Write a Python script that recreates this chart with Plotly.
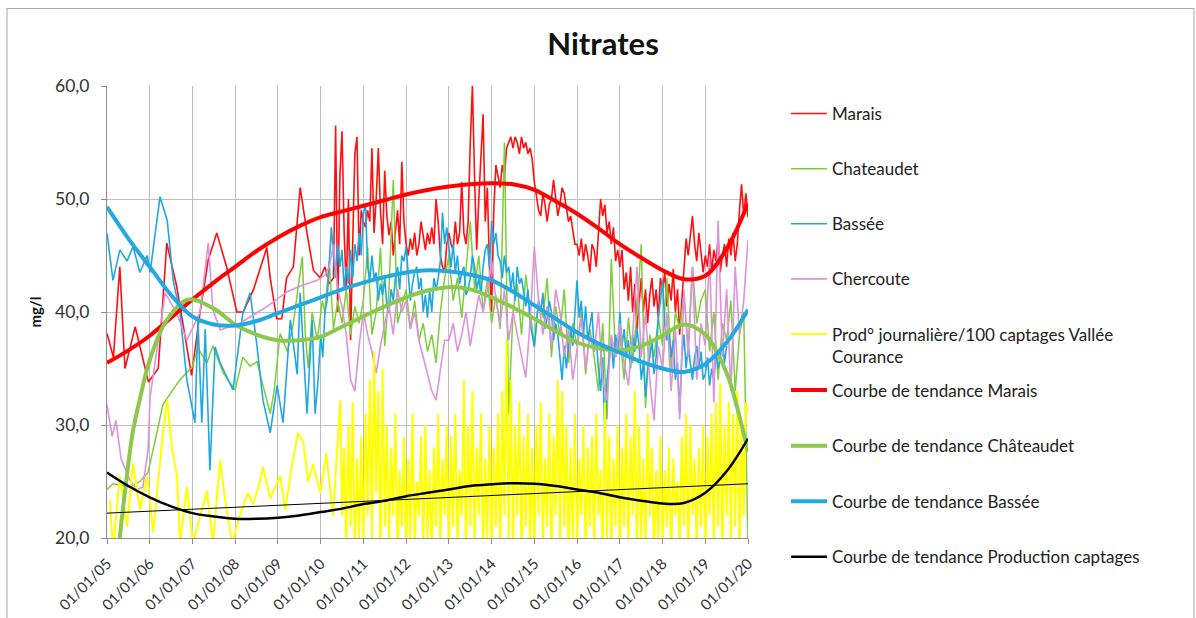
import plotly.graph_objects as go
import pandas as pd

# ---------------- DATA ----------------
# Marais: sparse samples 2005-2010.2, then regular samples every 0.05 year from 2010.30
marais_years = [2005.00, 2005.15, 2005.30, 2005.42, 2005.66, 2005.97, 2006.20, 2006.40, 2006.63, 2006.87,
                2006.98, 2007.18, 2007.37, 2007.57, 2007.80, 2008.04, 2008.19, 2008.43, 2008.74, 2008.82,
                2008.97, 2009.09, 2009.20, 2009.36, 2009.52, 2009.68, 2009.83, 2009.99, 2010.10, 2010.20]
marais_vals = [38.1, 36.0, 44.0, 35.0, 38.7, 33.8, 35.0, 46.1, 42.3, 37.0,
               34.4, 40.0, 44.6, 47.0, 44.0, 40.0, 40.0, 42.0, 45.7, 43.0,
               39.4, 39.4, 43.0, 44.0, 51.0, 47.0, 43.7, 43.0, 44.0, 42.5]
marais_dense_start, marais_dense_step = 2010.30, 0.05
marais_dense = [
    43, 56.5, 40, 52, 56, 47, 42, 50, 37.5, 46, 54, 55.5, 45, 49,
    48, 47.5, 49, 48, 54.5, 47, 50, 54.5, 49, 46, 52.5, 48.5, 46.8, 48, 45, 47, 49, 46, 53.3, 48,
    46, 45, 46.5, 45.5, 47, 45, 46, 48, 46.5, 45.5, 47, 46, 47.5, 46, 50, 48, 45, 44, 43.5, 46,
    47, 46, 45.5, 48, 46, 47, 51.5, 47, 46, 48, 55, 60, 52, 45.5, 50, 54, 57.5, 48, 51, 44,
    40, 49, 53, 52, 51, 53, 52, 54.5, 55, 55.5, 54.5, 55.5, 55, 54, 55.5, 54.5, 55, 54, 54.5, 53.5,
    51.5, 50, 49, 48.5, 50.5, 49.5, 48, 49.5, 50, 51.7, 50, 48.5, 49.5, 51, 50.5, 49, 48, 48.5, 47, 46,
    46, 45, 46.5, 44.5, 46, 45, 43.5, 46, 45.5, 44, 47, 50, 48.5, 49.5, 47, 48, 46, 47.5, 44.5, 45.5,
    44, 45.5, 42, 43.5, 41, 44, 40, 42.5, 38.5, 41, 43, 40, 42, 39, 41.5, 43, 40.5, 42, 39.5, 43,
    42, 43.5, 40.5, 42.5, 41, 43.8, 40, 42, 38, 41, 44, 46.5, 45, 47, 48.5, 46, 44.5, 47, 45, 43.5,
    45, 44, 46, 43.5, 45.5, 44.5, 46.5, 43.5, 45, 46, 44, 46.5, 45, 47, 44.5, 46, 49, 51.3, 48.5, 50.5,
    48.5, 48]

# Chateaudet
chat_years = [2005.00, 2005.14, 2005.30, 2005.54, 2005.77, 2005.96, 2006.12, 2006.31, 2006.52, 2006.71,
              2006.99, 2007.13, 2007.34, 2007.48, 2007.72, 2008.00, 2008.18, 2008.35, 2008.51, 2008.65,
              2008.82, 2008.91, 2009.05, 2009.22, 2009.36, 2009.57, 2009.64, 2009.71, 2009.80, 2009.92,
              2010.04]
chat_vals = [24.3, 24.8, 24.7, 24.5, 25.0, 25.8, 28.5, 31.8, 33.0, 34.0,
             35.1, 36.8, 35.5, 37.0, 34.6, 33.1, 36.0, 35.2, 35.6, 33.5,
             31.0, 33.0, 38.1, 36.5, 39.0, 44.9, 38.0, 35.0, 40.0, 37.5,
             41.0]
chat_dense_start, chat_dense_step = 2010.1, 0.1
chat_dense = [
    40, 44.5, 38.5, 41, 39, 42, 38, 40.5, 39,
    41, 45.7, 38, 40, 45.7, 37, 42, 51.7, 39, 40.5,
    42, 38.5, 41, 37.5, 39, 36.5, 38, 35.5, 40, 43,
    45, 41, 43, 39.5, 44, 48, 42, 45, 40, 43,
    39, 41.5, 38.5, 55, 31, 40, 42.5, 38, 43.3, 40,
    37, 41, 39.5, 43, 36, 40.5, 38, 42, 35.5, 39,
    37, 40, 34.5, 38.5, 36, 33, 39, 30.5, 44.7, 36,
    38, 34, 39.5, 35.5, 40, 46, 31.5, 38, 36, 39.5,
    37, 43, 35, 40, 38.5, 41.5, 37, 44, 39, 41,
    42, 36.5, 40, 34, 39, 37.5, 41, 33, 38, 40,
    19]

# Bassée
bassee_years = [2005.00, 2005.14, 2005.30, 2005.47, 2005.61, 2005.77, 2005.94, 2006.01, 2006.24, 2006.41,
                2006.55, 2006.71, 2006.87, 2007.06, 2007.13, 2007.22, 2007.30, 2007.41, 2007.53, 2007.65,
                2007.95, 2008.18, 2008.35, 2008.51, 2008.65, 2008.82, 2008.98, 2009.12, 2009.29, 2009.45,
                2009.52, 2009.68, 2009.80, 2009.87, 2009.94]
bassee_vals = [47.0, 42.8, 45.5, 44.5, 45.8, 43.5, 45.0, 43.5, 50.2, 48.1,
               42.8, 39.9, 34.0, 30.2, 39.3, 30.2, 38.5, 26.0, 36.9, 35.5,
               33.1, 39.9, 41.7, 37.0, 32.2, 29.3, 33.5, 30.2, 39.3, 34.5,
               41.7, 31.0, 39.3, 31.0, 34.0]
bassee_dense_start, bassee_dense_step = 2010.0, 0.05
bassee_dense = [
    38, 36, 40, 41, 44, 47.5, 45, 43, 46, 44, 45.5, 42, 44, 42.5, 45.5, 43, 46, 44.5, 47, 45,
    48.8, 49.5, 44, 42.8, 45, 43, 43.5, 41, 42.5, 41.5, 43, 40.5, 39.9, 42, 41, 43, 44, 42, 45, 44.5,
    45.8, 43, 41, 42.5, 43.5, 44, 42, 43, 40, 41.5, 39.5, 42, 40, 43, 42, 43, 44.5, 48.8, 46, 47.5,
    45.8, 44, 46, 43.5, 45, 42.5, 43.5, 44, 41.5, 42, 43, 45, 44, 42, 43, 41.5, 44, 45.5, 46, 44,
    48.1, 46, 47, 45, 44.5, 43, 45, 43.5, 44, 42, 43.5, 41, 44, 42.5, 43, 41.8, 40.5, 42, 39, 38,
    36.9, 39, 41, 40, 41.7, 38.5, 39.5, 41, 40, 37.5, 39, 38, 36, 34, 37, 35, 36.9, 38.5, 37, 40,
    42.8, 39.5, 41, 38, 40.5, 37.5, 39, 40, 36.5, 37.5, 35, 33, 36, 28.7, 34, 36, 37.5, 35, 38, 36.5,
    40, 37, 38.5, 36, 37.5, 35, 38, 36.5, 38.5, 37, 34, 35.5, 32.5, 35, 36, 37.5, 34.5, 36, 39.5, 41,
    42.8, 39, 37.5, 38.5, 36, 37.5, 34, 35.5, 31, 36, 38, 35, 37, 35.5, 34, 36, 37, 35, 36.5, 34,
    34.5, 36, 33.5, 35, 34, 36.5, 35, 36, 37.5, 35.5, 37]

# Chercoute
cherc_years = [2005.00, 2005.12, 2005.21, 2005.33, 2005.54, 2005.70, 2005.84, 2005.96, 2006.01, 2006.17,
               2006.36, 2006.62, 2006.87, 2007.18, 2007.37, 2007.48, 2007.65, 2008.11, 2008.75, 2009.22,
               2009.52, 2009.92, 2010.11]
cherc_vals = [31.8, 29.0, 30.4, 27.0, 25.1, 24.3, 24.5, 27.8, 32.5, 36.9,
              41.7, 40.0, 37.5, 40.0, 46.1, 40.2, 38.4, 39.0, 40.5, 41.8,
              42.3, 42.8, 43.3]
cherc_dense_start, cherc_dense_step = 2010.2, 0.1
cherc_dense = [
    44, 46, 42, 40.5, 38, 34, 33, 37,
    40, 38, 36.5, 34.6, 37, 39, 40.5, 38, 42, 40,
    41, 38.5, 40, 37.5, 36, 34.5, 33, 32.2, 35, 37.5,
    37.5, 39, 36.5, 38, 40, 37, 39.3, 41.5, 40, 42,
    44.6, 41, 39, 42, 37.5, 40, 38, 36, 34.2, 39,
    45.8, 41, 38, 40.5, 37, 42, 40, 36, 38.5, 34,
    37, 39.5, 35, 38, 36.5, 40, 34, 32.2, 38, 36,
    39, 35.5, 33.5, 38, 44, 36, 40, 34, 30.4, 37,
    35, 40, 33, 38.5, 30.5, 42, 36, 44, 34, 39,
    37, 45, 32, 48.1, 36, 42, 33, 44, 38, 41,
    46.4]

# Prod° journalière / 100
prod_years = [2005.07, 2005.14, 2005.30, 2005.47, 2005.61, 2005.77, 2005.94, 2006.08, 2006.31, 2006.41,
              2006.52, 2006.64, 2006.71, 2006.87, 2007.01, 2007.18, 2007.34, 2007.48, 2007.65, 2007.76,
              2007.93, 2008.11, 2008.30, 2008.42, 2008.58, 2008.65, 2008.82, 2009.05, 2009.17, 2009.33,
              2009.47, 2009.59, 2009.71, 2009.82, 2009.99, 2010.13, 2010.29, 2010.46]
prod_vals = [23.4, 19.0, 25.5, 21.0, 26.6, 22.5, 25.5, 20.5, 29.3, 32.2,
             28.0, 25.5, 19.5, 24.5, 19.5, 22.0, 24.2, 19.5, 26.9, 23.5,
             19.5, 22.0, 24.0, 23.0, 25.0, 26.3, 23.5, 25.5, 22.5, 26.5,
             29.3, 28.5, 25.0, 26.5, 24.0, 27.5, 22.0, 32.2]
prod_dense_start, prod_dense_step = 2010.5, 0.05
prod_dense = [
    22, 28, 19, 30, 21, 32, 18, 27, 20, 29,
    19, 31, 22, 34, 20, 36.5, 24, 33, 18, 35, 21, 30, 19, 28, 22, 31, 18, 26, 21, 29,
    18, 27, 20, 31, 19, 25, 22, 29, 18, 30, 20, 26, 18, 28, 21, 31, 19, 27, 22, 30,
    18, 29, 21, 31, 19, 26, 22, 34, 18, 30, 21, 33, 19, 28, 22, 31, 18, 27, 20, 30,
    19, 28, 21, 31, 18, 33, 22, 37.5, 20, 34, 19, 30, 22, 32, 18, 29, 21, 31, 19, 28,
    18, 30, 22, 32, 19, 27, 21, 31, 18, 29, 22, 34, 19, 33, 21, 30, 18, 28, 20, 31,
    19, 27, 22, 30, 18, 28, 21, 29, 19, 31, 22, 26, 18, 32, 20, 29, 19, 27, 21, 30,
    18, 28, 21, 31, 19, 29, 22, 33, 18, 30, 20, 27, 19, 31, 22, 28, 18, 26, 20, 29,
    19, 26, 21, 28, 18, 27, 22, 25, 19, 29, 21, 31, 18, 30, 22, 27, 19, 28, 21, 30,
    18, 29, 22, 31, 19, 32, 21, 33.7, 18, 30, 22, 32, 19, 31, 21, 33, 18, 30, 22, 32,
    31]

# Trend curves
trend_years = [2005.0, 2005.5, 2006.0, 2006.5, 2007.0, 2007.5, 2008.0, 2008.5, 2009.0, 2009.5,
               2010.0, 2010.5, 2011.0, 2011.5, 2012.0, 2012.5, 2013.0, 2013.5, 2014.0, 2014.5,
               2015.0, 2015.5, 2016.0, 2016.5, 2017.0, 2017.5, 2018.0, 2018.5, 2019.0, 2019.5,
               2020.0]
trend_marais = [35.5, 36.6, 37.9, 39.5, 41.1, 42.6, 44.0, 45.4, 46.6, 47.6,
                48.4, 48.9, 49.4, 49.9, 50.4, 50.8, 51.1, 51.3, 51.4, 51.3,
                50.8, 49.8, 48.7, 47.4, 46.0, 44.8, 43.7, 42.9, 43.2, 45.6,
                49.6]
trend_bassee = [49.3, 46.5, 44.0, 41.5, 39.6, 38.9, 38.8, 39.2, 39.9, 40.6,
                41.3, 42.0, 42.6, 43.1, 43.5, 43.7, 43.6, 43.3, 42.8, 41.8,
                40.6, 39.4, 38.2, 37.2, 36.4, 35.6, 35.0, 34.7, 35.4, 37.3,
                40.2]
trend_prod = [25.8, 24.6, 23.6, 22.8, 22.2, 21.9, 21.7, 21.7, 21.8, 22.0,
              22.3, 22.6, 23.0, 23.3, 23.7, 24.0, 24.3, 24.6, 24.75, 24.85,
              24.8, 24.6, 24.3, 24.0, 23.6, 23.3, 23.05, 23.1, 24.0, 25.9,
              28.8]
trend_chat_years = [2005.2, 2005.3, 2005.45, 2005.6, 2005.8, 2005.95, 2006.2, 2006.4, 2006.9, 2007.5,
                    2008.0, 2008.5, 2009.0, 2009.5, 2010.0, 2010.5, 2011.0, 2011.5, 2012.0, 2012.5,
                    2013.0, 2013.5, 2014.0, 2014.5, 2015.0, 2015.5, 2016.0, 2016.5, 2017.0, 2017.5,
                    2018.0, 2018.5, 2019.0, 2019.5, 2019.75, 2020.0]
trend_chat = [15.0, 20.0, 25.0, 29.3, 32.8, 35.1, 37.8, 39.3, 41.1, 40.3,
              38.9, 38.0, 37.5, 37.5, 37.8, 38.7, 39.6, 40.5, 41.3, 41.9,
              42.2, 42.0, 41.3, 40.4, 39.4, 38.3, 37.3, 36.8, 36.6, 37.0,
              37.9, 38.9, 38.0, 34.6, 31.5, 27.6]
linear_prod_years = [2005.0, 2020.0]
linear_prod = [22.2, 24.8]

names = ["Marais", "Chateaudet", "Bassée", "Chercoute",
         "Prod° journalière/100 captages Vallée<br>Courance",
         "Courbe de tendance Marais", "Courbe de tendance Châteaudet",
         "Courbe de tendance Bassée", "Courbe de tendance Production captages"]


# ---------------- helpers ----------------
def dec_to_date(y):
    year = int(y)
    start = pd.Timestamp(year=year, month=1, day=1)
    end = pd.Timestamp(year=year + 1, month=1, day=1)
    return start + (end - start) * (y - year)


def series(years, vals, dstart=None, dstep=None, dvals=None):
    xs = [dec_to_date(y) for y in years]
    ys = list(vals)
    if dvals is not None:
        xs += [dec_to_date(dstart + i * dstep) for i in range(len(dvals))]
        ys += list(dvals)
    return xs, ys


FONT = "Lato, 'Open Sans', sans-serif"
fig = go.Figure()

thin = [
    (names[0], series(marais_years, marais_vals, marais_dense_start, marais_dense_step, marais_dense), "#FF1010", 1.6),
    (names[1], series(chat_years, chat_vals, chat_dense_start, chat_dense_step, chat_dense), "#7DCE3A", 1.5),
    (names[2], series(bassee_years, bassee_vals, bassee_dense_start, bassee_dense_step, bassee_dense), "#1EA8E0", 1.6),
    (names[3], series(cherc_years, cherc_vals, cherc_dense_start, cherc_dense_step, cherc_dense), "#DE92DC", 1.6),
    (names[4], series(prod_years, prod_vals, prod_dense_start, prod_dense_step, prod_dense), "#FFFF00", 2.0),
]
for i, (nm, (xs, ys), col, w) in enumerate(thin):
    fig.add_trace(go.Scatter(x=xs, y=ys, mode="lines", name=nm, line=dict(color=col, width=w),
                             legend="legend", legendgroup=f"g{i}"))

trends = [
    (names[5], trend_years, trend_marais, "#FF0000", 4),
    (names[6], trend_chat_years, trend_chat, "#8CC84B", 4),
    (names[7], trend_years, trend_bassee, "#23A9E1", 4),
    (names[8], trend_years, trend_prod, "#000000", 2.5),
]
for i, (nm, yrs, vals, col, w) in enumerate(trends):
    fig.add_trace(go.Scatter(x=[dec_to_date(y) for y in yrs], y=vals, mode="lines", name=nm,
                             line=dict(color=col, width=w, shape="spline", smoothing=1.0),
                             legend="legend2", legendgroup=f"t{i}"))

fig.add_trace(go.Scatter(x=[dec_to_date(y) for y in linear_prod_years], y=linear_prod, mode="lines",
                         line=dict(color="#000000", width=1), showlegend=False, hoverinfo="skip"))

# ---------------- layout ----------------
L, R, T, B = 107, 448, 86, 80
W, H = 1196, 618
pw, ph = W - L - R, H - T - B


def px(xpix):
    return (xpix - L) / pw


def py(ypix):
    return (H - B - ypix) / ph


LEG_FONT = dict(family=FONT, size=17, color="#222222")
fig.update_layout(
    width=W, height=H,
    margin=dict(l=L, r=R, t=T, b=B, autoexpand=False),
    paper_bgcolor="white", plot_bgcolor="white",
    separators=", ",
    font=dict(family=FONT, size=14, color="#333333"),
    title=dict(text="<b>Nitrates</b>", x=603 / W, xanchor="center", y=1 - 44 / H, yanchor="middle",
               font=dict(family=FONT, size=31, color="#111111")),
    showlegend=True,
    legend=dict(x=px(786), xanchor="left", y=py(96), yanchor="top", traceorder="grouped",
                tracegroupgap=30, font=LEG_FONT, bgcolor="rgba(0,0,0,0)", valign="top", itemwidth=36),
    legend2=dict(x=px(786), xanchor="left", y=py(372.5), yanchor="top", traceorder="grouped",
                 tracegroupgap=30.5, font=LEG_FONT, bgcolor="rgba(0,0,0,0)", itemwidth=36),
    xaxis=dict(type="date", range=[dec_to_date(2005.0), dec_to_date(2020.0)],
               tick0="2005-01-01", dtick="M12", tickformat="%d/%m/%y", tickangle=-45,
               showgrid=True, gridcolor="#BEBEBE", gridwidth=1,
               showline=True, linecolor="#8C8C8C", linewidth=1,
               ticks="outside", ticklen=5, tickcolor="#8C8C8C", ticklabelstandoff=5,
               tickfont=dict(family=FONT, size=15, color="#333333"), zeroline=False),
    yaxis=dict(range=[20, 60], dtick=10, tick0=20, tickformat=".1f",
               showgrid=True, gridcolor="#BEBEBE", gridwidth=1,
               showline=True, linecolor="#8C8C8C", linewidth=1,
               ticks="outside", ticklen=5, tickcolor="#8C8C8C", ticklabelstandoff=8,
               tickfont=dict(family=FONT, size=17.5, color="#333333"), zeroline=False,
               title=dict(text="<b>mg/l</b>", standoff=9, font=dict(family=FONT, size=15, color="#111111"))),
    shapes=[dict(type="rect", xref="paper", yref="paper", x0=px(7), x1=px(1194), y0=py(640), y1=py(8.5),
                 line=dict(color="#A6A6A6", width=1), fillcolor="rgba(0,0,0,0)", layer="below")],
)

fig.write_html("out.html", config={"displayModeBar": False},
               post_script="document.body.style.margin='0';document.body.style.overflow='hidden';")
